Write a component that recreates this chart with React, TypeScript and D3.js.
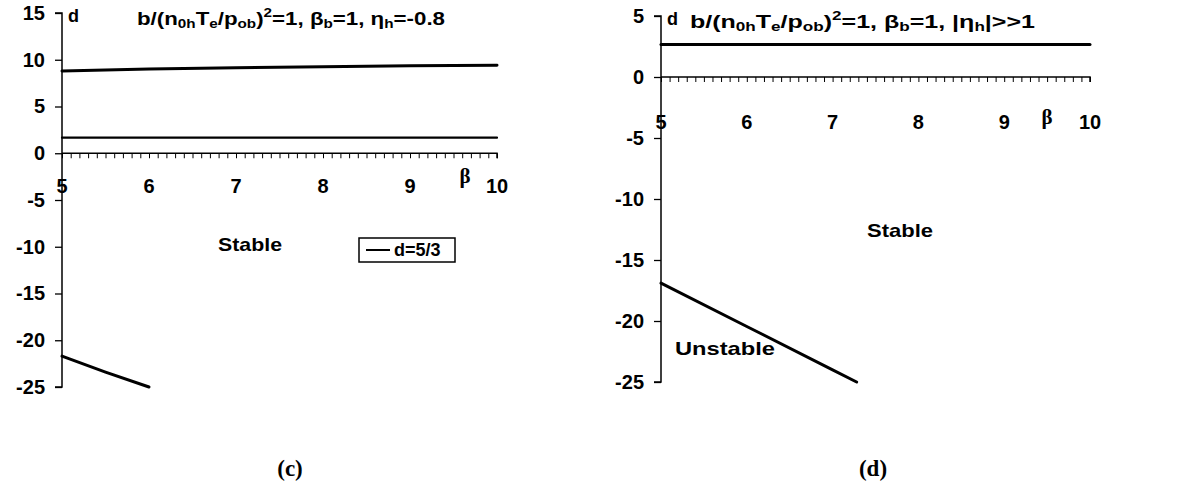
import React, { useEffect, useRef } from 'react';
import * as d3 from 'd3';

// beta values and d values
const betaTopC = [5, 6, 7, 8, 9, 10];
const dTopC = [8.8, 9.0, 9.15, 9.25, 9.35, 9.4];
const betaFiveThirds = [5, 10];
const dFiveThirds = [5 / 3, 5 / 3];
const betaLowC = [5, 5.5, 6];
const dLowC = [-21.7, -23.4, -25];

const betaTopD = [5, 10];
const dTopD = [2.67, 2.67];
const betaLowD = [5, 6, 7, 7.28];
const dLowD = [-16.9, -20.45, -24.0, -25];

const xTickLabels = [5, 6, 7, 8, 9, 10];
const yTicksC = [15, 10, 5, 0, -5, -10, -15, -20, -25];
const yTicksD = [5, 0, -5, -10, -15, -20, -25];

const SANS = '"Liberation Sans", Arial, sans-serif';
const SERIF = '"Liberation Serif", "Times New Roman", serif';

function drawPanel(svg, opts) {
  const { x, y, yTicks, xLabelDy, betaPos, series, sub, title, caption } = opts;
  const g = svg.append('g');

  // y axis
  const yAxis = d3.axisLeft(y).tickValues(yTicks).tickSize(7).tickPadding(10).tickFormat(d => String(d));
  const ya = g.append('g').attr('transform', `translate(${x(5)},0)`).call(yAxis);
  ya.select('.domain').attr('stroke-width', 1.5).attr('d', `M-7,${y(yTicks[0])}H0V${y(-25)}H-7`);
  ya.selectAll('.tick line').attr('stroke-width', 1.3);
  ya.selectAll('.tick text')
    .attr('font-family', SANS).attr('font-weight', 'bold').attr('font-size', 20).attr('fill', '#000');

  // x axis at d=0 with minor ticks every 0.1
  const xAxis = d3.axisBottom(x).tickValues(d3.range(50, 101).map(v => v / 10)).tickSize(5).tickFormat(() => '');
  const xa = g.append('g').attr('transform', `translate(0,${y(0)})`).call(xAxis);
  xa.select('.domain').attr('stroke-width', 1.5).attr('d', `M${x(5)},0H${x(10)}V5`);
  xa.selectAll('.tick line').attr('stroke-width', 1);

  g.selectAll('.xl').data(xTickLabels).enter().append('text')
    .attr('x', d => x(d)).attr('y', y(0) + xLabelDy)
    .attr('text-anchor', 'middle').attr('dominant-baseline', 'central')
    .attr('font-family', SANS).attr('font-weight', 'bold').attr('font-size', 20)
    .text(d => d);

  g.append('text').attr('x', betaPos[0]).attr('y', betaPos[1])
    .attr('text-anchor', 'middle').attr('dominant-baseline', 'central')
    .attr('font-family', SERIF).attr('font-weight', 'bold').attr('font-size', 21)
    .text('β');

  const line = d3.line().x(d => x(d[0])).y(d => y(d[1]));
  series.forEach(s => {
    g.append('path')
      .attr('d', line(d3.zip(s.beta, s.d)))
      .attr('fill', 'none').attr('stroke', '#000').attr('stroke-width', s.w)
      .attr('stroke-linecap', 'round');
  });

  // "d" label by the axis
  g.append('text').attr('x', x(5) + 6).attr('y', y(yTicks[0]) + 9)
    .attr('font-family', SANS).attr('font-weight', 'bold').attr('font-size', 18)
    .text('d');

  // title with sub/superscripts
  const t = g.append('text').attr('x', title.x).attr('y', title.y)
    .attr('font-family', SANS).attr('font-weight', 'bold').attr('font-size', 19)
    .attr('textLength', title.len).attr('lengthAdjust', 'spacingAndGlyphs');
  title.parts.forEach(p => {
    const ts = t.append('tspan').text(p[0]);
    if (p[1] === 'sub') ts.attr('font-size', 13).attr('baseline-shift', '-3');
    if (p[1] === 'sup') ts.attr('font-size', 13).attr('baseline-shift', '8');
  });

  sub.forEach(s => {
    g.append('text').attr('x', s.x).attr('y', s.y)
      .attr('text-anchor', 'middle').attr('dominant-baseline', 'central')
      .attr('font-family', SANS).attr('font-weight', 'bold').attr('font-size', 19)
      .attr('textLength', s.len).attr('lengthAdjust', 'spacingAndGlyphs')
      .text(s.text);
  });

  g.append('text').attr('x', caption.x).attr('y', 476)
    .attr('text-anchor', 'middle')
    .attr('font-family', SERIF).attr('font-weight', 'bold').attr('font-size', 23)
    .text(caption.text);

  return g;
}

function App() {
  const ref = useRef(null);

  useEffect(() => {
    const svg = d3.select(ref.current);
    svg.selectAll('*').remove();

    const xC = d3.scaleLinear().domain([5, 10]).range([62, 497]);
    const yC = d3.scaleLinear().domain([-25, 15]).range([387, 13]);
    const gC = drawPanel(svg, {
      x: xC, y: yC, yTicks: yTicksC, xLabelDy: 33, betaPos: [465, 176],
      series: [
        { beta: betaTopC, d: dTopC, w: 3 },
        { beta: betaFiveThirds, d: dFiveThirds, w: 2.2 },
        { beta: betaLowC, d: dLowC, w: 3 },
      ],
      sub: [{ x: 250, y: 244, text: 'Stable', len: 64 }],
      title: {
        x: 137, y: 25, len: 308,
        parts: [['b/(n'], ['0h', 'sub'], ['T'], ['e', 'sub'], ['/p'], ['ob', 'sub'], [')'], ['2', 'sup'],
          ['=1, β'], ['b', 'sub'], ['=1, η'], ['h', 'sub'], ['=-0.8']],
      },
      caption: { x: 290, text: '(c)' },
    });

    // legend
    gC.append('rect').attr('x', 359).attr('y', 238).attr('width', 96).attr('height', 24)
      .attr('fill', '#fff').attr('stroke', '#000').attr('stroke-width', 1.5);
    gC.append('line').attr('x1', 366).attr('x2', 390).attr('y1', 250).attr('y2', 250)
      .attr('stroke', '#000').attr('stroke-width', 2);
    gC.append('text').attr('x', 394).attr('y', 250).attr('dominant-baseline', 'central')
      .attr('font-family', SANS).attr('font-weight', 'bold').attr('font-size', 18)
      .text('d=5/3');

    const xD = d3.scaleLinear().domain([5, 10]).range([661, 1090]);
    const yD = d3.scaleLinear().domain([-25, 5]).range([382, 16]);
    drawPanel(svg, {
      x: xD, y: yD, yTicks: yTicksD, xLabelDy: 45, betaPos: [1047, 117],
      series: [
        { beta: betaTopD, d: dTopD, w: 3 },
        { beta: betaLowD, d: dLowD, w: 3 },
      ],
      sub: [{ x: 900, y: 230, text: 'Stable', len: 66 }, { x: 725, y: 348, text: 'Unstable', len: 100 }],
      title: {
        x: 690, y: 28, len: 345,
        parts: [['b/(n'], ['0h', 'sub'], ['T'], ['e', 'sub'], ['/p'], ['ob', 'sub'], [')'], ['2', 'sup'],
          ['=1, β'], ['b', 'sub'], ['=1, |η'], ['h', 'sub'], ['|>>1']],
      },
      caption: { x: 873, text: '(d)' },
    });
  }, []);

  return (
    <svg ref={ref} width={1190} height={487}
      style={{ position: 'absolute', left: 0, top: 0, background: '#fff' }} />
  );
}

export default App;
